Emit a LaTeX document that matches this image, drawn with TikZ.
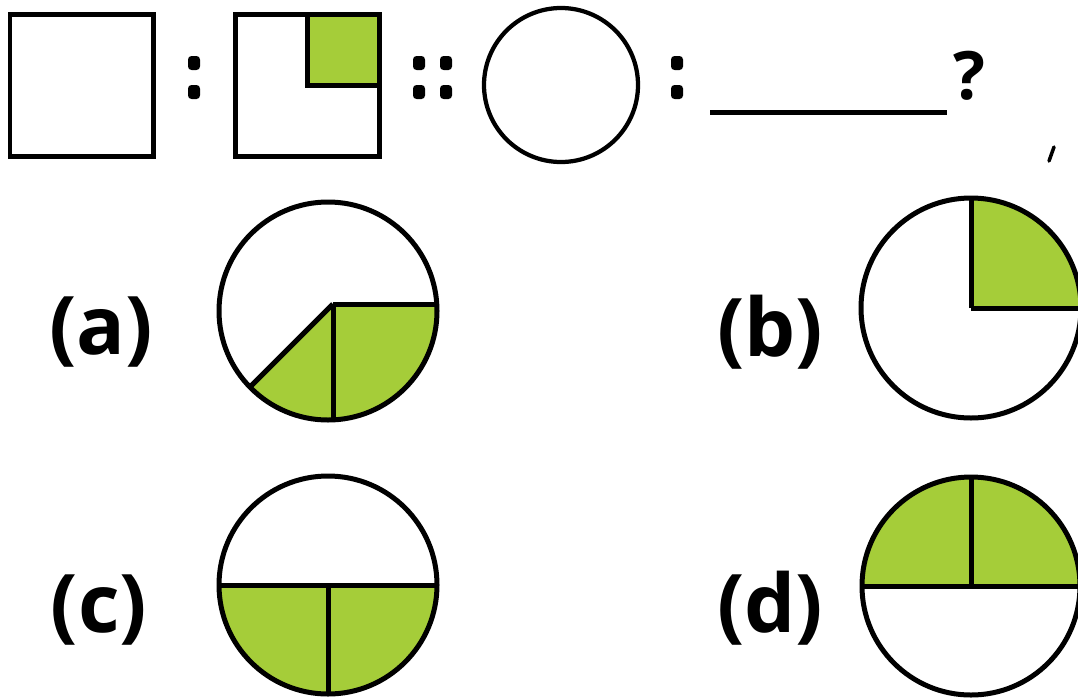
\documentclass[tikz,border=0pt]{standalone}
\usepackage{fontspec}
\setmainfont{Open Sans}
\definecolor{lgreen}{RGB}{165,205,57}
\newcommand\mydot[2]{\fill[rounded corners=2pt] ({#1-6},{#2-7}) rectangle ({#1+6},{#2+7});}
\begin{document}
\begin{tikzpicture}[x=0.02cm,y=-0.02cm,
  outline/.style={line width=0.1cm, draw=black},
  gfill/.style={fill=lgreen},
  lbl/.style={font=\fontsize{46}{52}\selectfont\bfseries, inner sep=0pt},
  qmark/.style={font=\fontsize{38}{44}\selectfont\bfseries, inner sep=0pt}]
\useasboundingbox (0,0) rectangle (1078,697);
\clip (0,0) rectangle (1078,697);

% ---------- top row ----------
\draw[outline] (10,14) rectangle (153,156);
\mydot{194}{63}\mydot{194}{92}
\fill[gfill] (307,14) rectangle (379,85);
\draw[outline] (235,14) rectangle (379,156);
\draw[outline] (307,14) -- (307,85) -- (379,85);
\mydot{419}{63}\mydot{419}{92}\mydot{446}{63}\mydot{446}{92}
\coordinate (ctop) at (561,85);
\draw[line width=0.085cm] (ctop) circle (77);
\mydot{677}{63}\mydot{677}{92}
\coordinate (bl1) at (710,112);
\coordinate (bl2) at (947,112);
\draw[line width=0.1cm] (bl1) -- (bl2);
\node[qmark] (q) at (969,76) {?};
\coordinate (cm1) at (1054,147);
\coordinate (cm2) at (1049,161);
\draw[line width=0.07cm, line cap=round] (cm1) -- (cm2);

% ---------- (a) ----------
\node[lbl] (la) at (101,332) {(a)};
\coordinate (ca) at (328,311);
\coordinate (va) at (333,304);
\begin{scope}
  \clip (ca) circle (109);
  \fill[gfill] (va) -- (500,304) -- (500,504) -- (133,504) -- cycle;
  \draw[outline] (va) -- (500,304);
  \draw[outline] (va) -- (333,500);
  \draw[outline] (va) -- (133,504);
\end{scope}
\draw[outline] (ca) circle (109);

% ---------- (b) ----------
\node[lbl] (lb) at (770,332) {(b)};
\coordinate (cb) at (971,308);
\begin{scope}
  \clip (cb) circle (110);
  \fill[gfill] (cb) rectangle (1120,150);
  \draw[outline] (cb) -- (971,150);
  \draw[outline] (cb) -- (1120,308);
\end{scope}
\draw[outline] (cb) circle (110);

% ---------- (c) ----------
\node[lbl] (lc) at (99,610) {(c)};
\coordinate (cc) at (328,585);
\begin{scope}
  \clip (cc) circle (109);
  \fill[gfill] (200,585) rectangle (460,720);
  \draw[outline] (200,585) -- (460,585);
  \draw[outline] (cc) -- (328,720);
\end{scope}
\draw[outline] (cc) circle (109);

% ---------- (d) ----------
\node[lbl] (ld) at (770,608) {(d)};
\coordinate (cd) at (971,586);
\begin{scope}
  \clip (cd) circle (109);
  \fill[gfill] (850,586) rectangle (1120,460);
  \draw[outline] (850,586) -- (1120,586);
  \draw[outline] (cd) -- (971,460);
\end{scope}
\draw[outline] (cd) circle (109);
\end{tikzpicture}
\end{document}
